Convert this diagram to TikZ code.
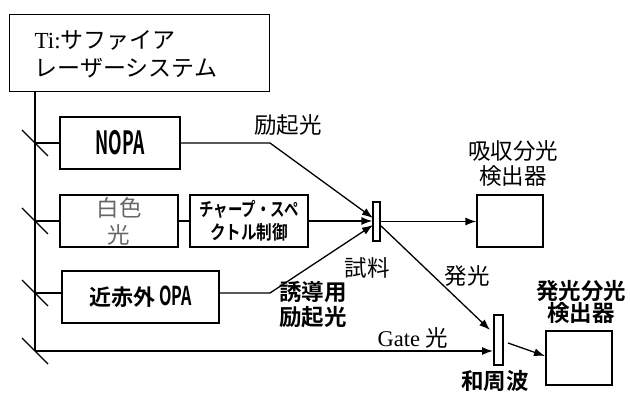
\documentclass[tikz,border=0pt]{standalone}
\usepackage{fontspec}
\usepackage{graphicx}
\setmainfont{Liberation Serif}
\newfontfamily\jp{Noto Sans CJK JP}
\newfontfamily\jpb{Noto Sans CJK JP}[BoldFont={* Bold}]
\usetikzlibrary{arrows.meta,calc}
\begin{document}
\begin{tikzpicture}[x=1pt,y=-1pt,line width=1.3pt,
  box/.style={draw,minimum width=#1,inner sep=0pt},
  arr/.style={-{Latex[length=11pt,width=8pt]}},
  thin/.style={font=\fontsize{22.5}{26}\selectfont\jp},
  bld/.style={align=center,font=\fontsize{22.5}{25}\selectfont\jpb\bfseries},
]
\useasboundingbox (0,0) rectangle (630,393);
% laser
\node[box=260pt,minimum height=77pt,anchor=north west] (laser) at (9,14) {};
\node[anchor=west,align=left,inner sep=0pt,font=\fontsize{23}{28}\selectfont] (lasertxt) at (34,54)
  {Ti:{\jp サファイア}\\{\jp レーザーシステム}};
% trunk
\coordinate (top) at (35,91);
\coordinate (b1) at (35,143);
\coordinate (b2) at (35,221);
\coordinate (b3) at (35,293);
\coordinate (b4) at (35,351);
\draw (top) -- (b4);
\foreach \b in {b1,b2,b3,b4}
  \draw ([shift={(-13,-13)}]\b) -- ([shift={(13,13)}]\b);
% boxes
\node[box=120pt,minimum height=52pt,font=\jpb\bfseries] (nopa) at (120,143)
  {\scalebox{0.55}[1]{\fontsize{32}{34}\selectfont NOPA}};
\node[box=118pt,minimum height=52pt,align=center,text=black!60,
  font=\fontsize{22.5}{27}\selectfont\jp] (white) at (119,221) {白色\\光};
\node[box=118pt,minimum height=52pt,align=center,font=\fontsize{19}{23}\selectfont\jpb\bfseries] (chirp) at (249,221)
  {\scalebox{0.76}[1]{チャープ・スペ}\\
   \scalebox{0.82}[1]{クトル制御}};
\node[box=157pt,minimum height=52pt,font=\fontsize{22}{24}\selectfont\jpb\bfseries] (nir) at (140.5,297)
  {近赤外\,\scalebox{0.62}[1]{\fontsize{26}{28}\selectfont OPA}};
\node[box=7pt,minimum height=39pt] (sample) at (376.5,221.5) {};
\node[box=66pt,minimum height=52pt] (abs) at (510,221) {};
\node[box=9pt,minimum height=50pt] (sfg) at (498.5,340) {};
\node[box=66pt,minimum height=54pt] (emdet) at (579,358) {};
% connectors
\draw (b1) -- (b1 -| nopa.west);
\draw (b2) -- (b2 -| white.west);
\draw (b3) -- (b3 -| nir.west);
\draw (white.east) -- (chirp.west);
\coordinate (k1) at (270,143);
\coordinate (s1) at (373,218);
\draw[arr] (nopa.east |- k1) -- (k1) -- (s1);
\draw[arr] (chirp.east) -- (chirp.east -| sample.west);
\coordinate (k2) at (270,293);
\coordinate (s3) at (373,225);
\draw[arr] (nir.east |- k2) -- (k2) -- (s3);
\draw[arr] (sample.east) -- (sample.east -| abs.west);
\coordinate (s4) at (380,225);
\coordinate (p1) at (490,330);
\draw[arr] (s4) -- (p1);
\coordinate (p2) at (493,351);
\draw[arr] (b4) -- (p2);
\coordinate (q1) at (508,343);
\coordinate (q2) at (545,356);
\draw[arr] (q1) -- (q2);
% labels
\node[thin] (l1) at (288,125) {励起光};
\node[thin,align=center,font=\fontsize{22.5}{25}\selectfont\jp] (l2) at (513,164) {吸収分光\\検出器};
\node[thin] (l3) at (367,268) {試料};
\node[thin] (l4) at (467,276) {発光};
\node[font=\fontsize{22.5}{26}\selectfont] (l5) at (413,338) {Gate {\jp 光}};
\node[bld] (l6) at (313,305) {誘導用\\励起光};
\node[bld,font=\fontsize{22.5}{22}\selectfont\jpb\bfseries] (l7) at (581,302) {発光分光\\検出器};
\node[bld] (l8) at (495,381) {和周波};
\end{tikzpicture}
\end{document}
